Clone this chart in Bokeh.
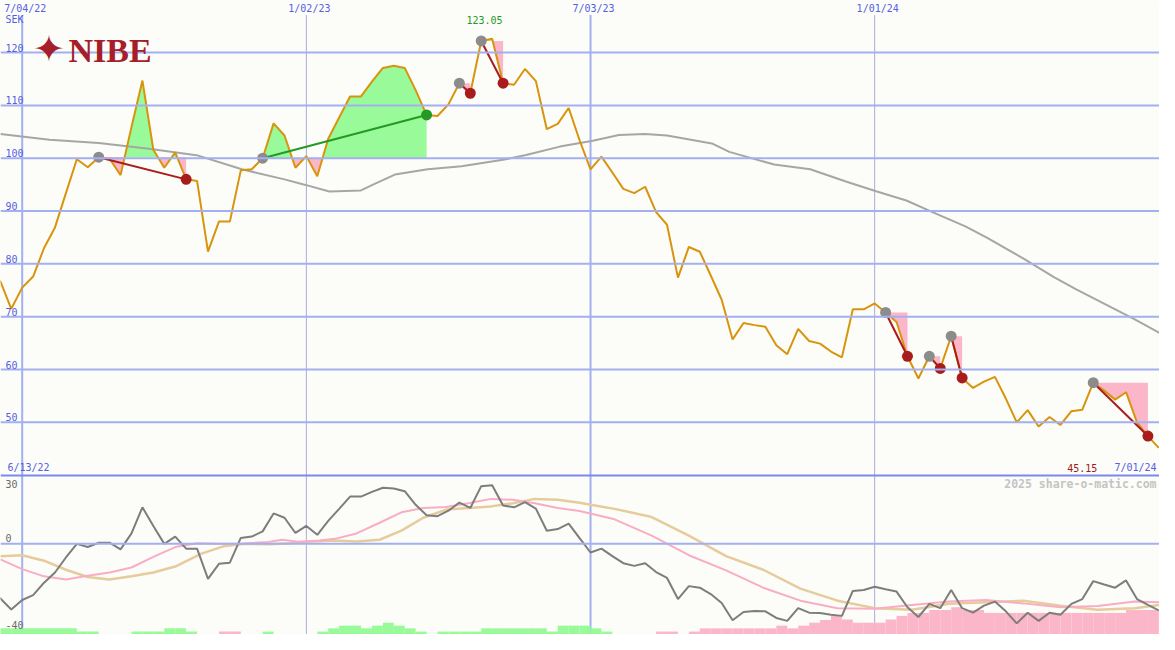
from bokeh.plotting import figure
from bokeh.models import Range1d, Span, Label
from bokeh.embed import file_html
from bokeh.resources import INLINE

# ---------------- data ----------------
date_labels = ["7/04/22", "1/02/23", "7/03/23", "1/01/24"]
date_weeks = [3, 29, 55, 81]          # week index, 0 = 6/13/22
major_dates = [True, False, True, False]
first_date = "6/13/22"
last_date = "7/01/24"
y_ticks = [120, 110, 100, 90, 80, 70, 60, 50]
osc_ticks = [30, 0, -40]
high_label = "123.05"
last_label = "45.15"
currency = "SEK"

price = [78.0, 76.7, 71.5, 75.5, 77.6, 83.0, 86.9, 93.4, 99.8, 98.3,
         100.2, 99.9, 96.8, 105.9, 114.7, 101.6, 98.2, 101.1, 96.0, 95.7,
         82.3, 88.0, 88.0, 97.7, 97.9, 100.0, 106.6, 104.3, 98.2, 100.4,
         96.6, 103.7, 107.7, 111.7, 111.7, 114.5, 117.1, 117.5, 117.1, 112.9,
         108.2, 108.0, 110.2, 114.2, 112.3, 122.2, 122.6, 114.2, 113.9, 116.9,
         114.6, 105.5, 106.5, 109.5, 103.4, 97.9, 100.3, 97.3, 94.2, 93.4,
         94.6, 89.8, 87.4, 77.4, 83.2, 82.3, 77.8, 73.2, 65.7, 68.8,
         68.4, 68.1, 64.6, 62.9, 67.7, 65.4, 64.9, 63.4, 62.3, 71.4,
         71.4, 72.5, 70.8, 69.0, 62.5, 58.3, 62.5, 60.2, 66.3, 58.4,
         56.5, 57.7, 58.6, 54.5, 50.0, 52.3, 49.2, 51.0, 49.5, 52.1,
         52.4, 57.5, 56.0, 54.3, 55.7, 50.0, 47.4, 45.15]

ma_weeks = [1.0, 5.5, 10.0, 14.6, 19.1, 23.1, 27.0, 29.0, 31.1, 34.0, 35.0, 37.1,
            40.1, 43.2, 47.0, 49.1, 52.2, 55.2, 57.6, 60.0, 62.0, 66.1, 67.7,
            71.8, 75.1, 78.5, 81.2, 83.9, 86.6, 89.3, 91.3, 94.7, 97.4, 99.4,
            102.7, 104.8, 107.1]
ma_vals = [104.6, 103.5, 102.9, 101.8, 100.5, 97.9, 96.0, 94.9, 93.7, 93.9, 94.9, 96.9,
           97.9, 98.5, 99.7, 100.6, 102.2, 103.3, 104.4, 104.6, 104.3, 102.8, 101.2,
           98.8, 97.9, 95.5, 93.7, 92.0, 89.5, 87.1, 84.9, 80.9, 77.5, 75.2,
           71.7, 69.5, 66.9]

osc = [-20.0, -24.1, -29.0, -24.8, -22.7, -17.2, -12.7, -6.1, -0.1, -1.5,
       0.4, 0.4, -2.5, 4.5, 16.0, 7.8, -0.1, 3.1, -2.2, -2.2,
       -15.5, -8.9, -8.4, 2.5, 3.1, 5.4, 13.3, 11.4, 4.7, 7.8,
       3.9, 10.0, 15.3, 20.7, 20.7, 22.8, 24.6, 24.3, 23.1, 17.1,
       12.5, 12.1, 14.5, 18.1, 15.7, 25.3, 25.7, 16.8, 16.0, 18.3,
       15.4, 5.7, 6.4, 8.8, 2.4, -3.9, -2.2, -5.5, -8.6, -9.8,
       -8.6, -12.5, -15.1, -24.4, -18.7, -19.4, -22.2, -26.1, -33.7, -30.1,
       -29.7, -29.8, -32.7, -34.0, -28.4, -30.4, -30.5, -31.3, -31.8, -20.8,
       -20.4, -19.0, -20.1, -21.1, -28.0, -32.3, -26.5, -28.4, -20.4, -28.4,
       -30.4, -27.3, -25.5, -29.8, -35.1, -30.4, -34.0, -30.4, -31.3, -26.5,
       -24.4, -16.5, -18.0, -19.4, -16.2, -24.4, -27.0, -29.4]

pink_weeks = [1, 3, 5, 7, 9, 11, 13, 15, 17, 19, 21, 23, 25.5, 26.8, 28.2, 30.2,
              31.6, 33.6, 35.7, 37.7, 39.7, 41.8, 43.8, 45.9, 47.9, 49.9, 52, 54,
              57.2, 60.6, 64, 67.4, 70.8, 74.2, 77.6, 81, 84.4, 87.8, 91.2, 94.6,
              98, 101.4, 104.8, 107.1]
pink_vals = [-6.9, -11.2, -14.4, -15.8, -14.1, -12.7, -10.5, -5.8, -1.5, 0.2, 0.0, 0.0,
             0.7, 1.7, 0.8, 1.4, 2.1, 4.5, 9.2, 13.8, 15.7, 16.1, 17.8, 19.7, 19.3,
             17.8, 15.7, 14.4, 10.7, 3.5, -5.1, -11.8, -19.4, -25.1, -28.4, -28.7,
             -27.0, -25.5, -24.8, -26.3, -28.0, -27.5, -25.5, -25.8]

tan_weeks = [1, 3, 5, 7, 9, 11, 13, 15, 17, 19.4, 21.4, 23.4, 25.5, 27.5, 29.5,
             31.6, 33.6, 35.7, 37.7, 39.7, 41.8, 43.8, 45.9, 47.9, 49.9, 52, 54,
             57.2, 60.6, 64, 67.4, 70.8, 74.2, 77.6, 81, 84.4, 87.8, 91.2, 94.6,
             98, 101.4, 104.8, 107.1]
tan_vals = [-5.5, -5.1, -7.5, -11.5, -14.7, -15.8, -14.4, -12.7, -10.1, -4.4, -1.2, 0.0,
            -0.3, 0.2, 0.9, 1.4, 0.9, 1.7, 5.7, 11.4, 15.0, 15.7, 16.4, 17.8, 19.7,
            19.3, 18.0, 15.3, 11.7, 3.5, -5.5, -11.5, -19.8, -25.1, -28.4, -29.1,
            -26.5, -25.8, -25.1, -27.3, -29.1, -28.4, -27.0]

# bottom histogram: + green, - pink (height above panel floor)
bar_vals = [2.7, 2.7, 2.7, 2.7, 2.7, 2.7, 2.7, 2.7, 1.3, 1.3,
            0, 0, 0, 1.3, 1.3, 1.3, 2.7, 2.7, 1.3, 0,
            0, -1.3, -1.3, 0, 0, 1.3, 0, 0, 0, 0,
            1.3, 2.7, 3.9, 3.9, 2.7, 3.9, 5.2, 3.9, 2.7, 1.3,
            0, 1.3, 1.3, 1.3, 1.3, 2.7, 2.7, 2.7, 2.7, 2.7,
            2.7, 1.3, 3.9, 3.9, 3.9, 2.7, 1.3, 0, 0, 0,
            0, -1.3, -1.3, 0, -1.3, -2.7, -2.7, -2.7, -2.7, -2.7,
            -2.7, -2.7, -3.9, -2.7, -3.9, -5.2, -6.4, -8.2, -6.6, -5.2,
            -5.2, -5.2, -6.6, -8.2, -9.5, -9.5, -10.8, -10.8, -12.0, -10.8,
            -10.8, -9.5, -9.5, -9.5, -9.5, -9.5, -9.5, -9.5, -9.5, -9.5,
            -9.5, -9.5, -9.5, -9.5, -10.8, -10.8, -10.8, -10.8]

sig_start = [10, 25, 43, 45, 82, 86, 88, 101]
sig_end = [18, 40, 44, 47, 84, 87, 89, 106]

# ---------------- style ----------------
BG = "#fcfdf9"
GRID = "#a3aff0"
VGRID_MINOR = "#a9acd8"
SEP = "#7c88ee"
BLUE_TXT = "#5560e0"
PRICE = "#d8940c"
MA = "#a6a6a6"
GREEN = "#98fa98"
PINK = "#fbb6c9"
RED = "#a81c1c"
DKGREEN = "#249a24"
GREY_PT = "#8c8c8c"
FONT = "DejaVu Sans Mono"

W, H = 1159, 634
SX, SY = W / 1175.0, H / 650.0


def sx(px):
    return px * SX


def sy(py):
    return H - py * SY


p = figure(width=W, height=H, x_range=Range1d(1.014, 107.06),
           y_range=Range1d(9.83, 129.86), output_backend="svg",
           toolbar_location=None, x_axis_type=None, y_axis_type=None,
           min_border=0)
p.extra_y_ranges = {"osc": Range1d(-40, 239.1)}
p.outline_line_color = None
p.background_fill_color = BG
p.border_fill_color = BG
try:
    p.grid.visible = False
except Exception:
    pass

# horizontal grid, main panel
for v in y_ticks:
    p.add_layout(Span(location=v, dimension="width", line_color=GRID, line_width=2))
# zero line lower panel and separator
p.add_layout(Span(location=0, dimension="width", line_color=GRID, line_width=2,
                  y_range_name="osc"))
p.add_layout(Span(location=30, dimension="width", line_color=SEP, line_width=2,
                  y_range_name="osc"))

# vertical date lines
top_v = 127.1
for w, major in zip(date_weeks, major_dates):
    p.segment(x0=[w], y0=[9.83], x1=[w], y1=[top_v],
              line_color=GRID if major else VGRID_MINOR,
              line_width=2 if major else 1)

# bottom histogram
gl, gr, gt, pl, pr, pt = [], [], [], [], [], []
for i, b in enumerate(bar_vals):
    if b > 0:
        gl.append(i); gr.append(i + 1); gt.append(-40 + b)
    elif b < 0:
        pl.append(i); pr.append(i + 1); pt.append(-40 - b)
p.quad(left=gl, right=gr, bottom=-40, top=gt, fill_color=GREEN, line_color=None,
       y_range_name="osc")
p.quad(left=pl, right=pr, bottom=-40, top=pt, fill_color=PINK, line_color=None,
       y_range_name="osc")

# signal fills
for s, e in zip(sig_start, sig_end):
    L = price[s]
    xs, up, dn = [], [], []
    for k in range(s, e + 1):
        v = price[k]
        if k > s:
            v0 = price[k - 1]
            if (v0 - L) * (v - L) < 0:
                t = (L - v0) / (v - v0)
                xs.append(k - 1 + t); up.append(L); dn.append(L)
        xs.append(k); up.append(max(v, L)); dn.append(min(v, L))
    p.varea(x=xs, y1=[L] * len(xs), y2=up, fill_color=GREEN)
    p.varea(x=xs, y1=dn, y2=[L] * len(xs), fill_color=PINK)

# moving average (main)
p.line(ma_weeks, ma_vals, line_color=MA, line_width=2)

# lower panel lines
p.line(tan_weeks, tan_vals, line_color="#e6cb9c", line_width=2.5, y_range_name="osc")
p.line(pink_weeks, pink_vals, line_color="#f9adc4", line_width=2, y_range_name="osc")
p.line(list(range(len(osc))), osc, line_color="#7d7d7d", line_width=2,
       y_range_name="osc")

# price
p.line(list(range(len(price))), price, line_color=PRICE, line_width=2)

# signal connections and markers
cols = [DKGREEN if price[e] > price[s] else RED for s, e in zip(sig_start, sig_end)]
p.segment(x0=sig_start, y0=[price[s] for s in sig_start], x1=sig_end,
          y1=[price[e] for e in sig_end], line_color=cols, line_width=2)
p.scatter(x=sig_start, y=[price[s] for s in sig_start], size=11,
          fill_color=GREY_PT, line_color=None)
p.scatter(x=sig_end, y=[price[e] for e in sig_end], size=11,
          fill_color=cols, line_color=None)

# ---------------- texts ----------------
def lab(text, x, y, color=BLUE_TXT, align="left", base="middle", size="10px",
        style="normal", font=FONT, **kw):
    p.add_layout(Label(text=text, x=x, y=y, text_color=color, text_align=align,
                       text_baseline=base, text_font_size=size,
                       text_font_style=style, text_font=font, **kw))

for txt, w in zip(date_labels, date_weeks):
    lab(txt, w, sy(8), align="center", y_units="screen", x_offset=3)
lab(currency, sx(5), sy(19), x_units="screen", y_units="screen")
for v in y_ticks:
    lab(str(v), sx(5), v, x_units="screen", base="bottom", y_offset=1)

lab(high_label, 45.3, sy(20), color="#1f9a1f", align="center", y_units="screen")
lab(first_date, sx(7), sy(479), x_units="screen", y_units="screen")
lab(last_label, sx(1112), sy(479), color="#a01818", align="right",
    x_units="screen", y_units="screen")
lab(last_date, sx(1172), sy(479), align="right", x_units="screen", y_units="screen")
lab("2025 share-o-matic.com", sx(1172), sy(496), color="#c4c4c4", align="right",
    size="11.5px", style="bold", x_units="screen", y_units="screen")

for v, py in zip(osc_ticks, [496, 551, 640]):
    lab(str(v), sx(5), sy(py), color="#6a6a6a", x_units="screen", y_units="screen")

# logo
lab("\u2726", sx(49), sy(50), color="#a61e2a", align="center", size="38px",
    font="DejaVu Sans", x_units="screen", y_units="screen")
lab("NIBE", sx(111), sy(51), color="#a61e2a", align="center", size="34px",
    style="bold", font="Liberation Serif", x_units="screen", y_units="screen")

open("out.html", "w").write(file_html(p, INLINE))
